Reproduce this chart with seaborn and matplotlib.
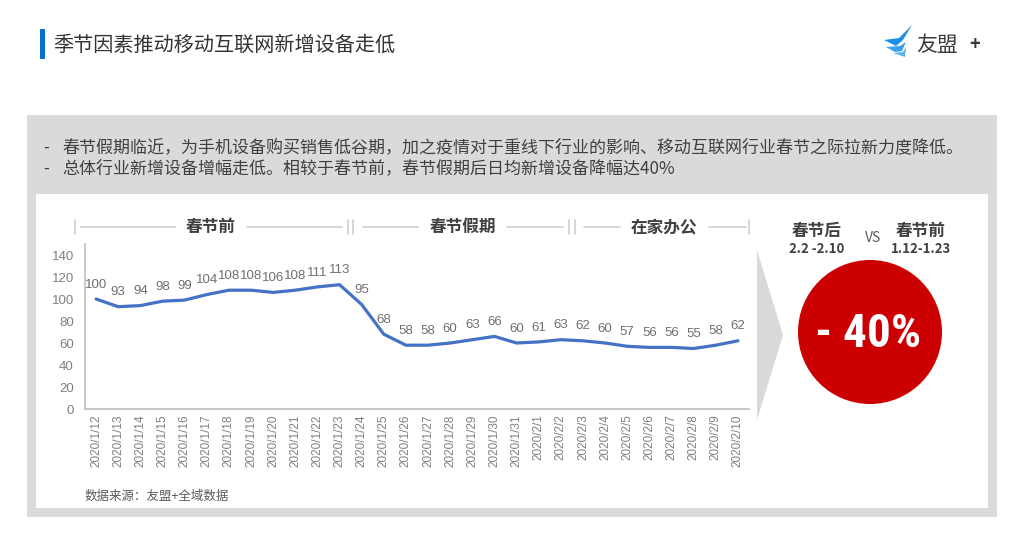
import numpy as np
import pandas as pd
import matplotlib
matplotlib.use("Agg")
import matplotlib.pyplot as plt
import matplotlib.patches as mpatches
import matplotlib.transforms as mtransforms
from matplotlib import font_manager
import seaborn as sns

# ---- data ----
dates = ["2020/1/12", "2020/1/13", "2020/1/14", "2020/1/15", "2020/1/16",
         "2020/1/17", "2020/1/18", "2020/1/19", "2020/1/20", "2020/1/21",
         "2020/1/22", "2020/1/23", "2020/1/24", "2020/1/25", "2020/1/26",
         "2020/1/27", "2020/1/28", "2020/1/29", "2020/1/30", "2020/1/31",
         "2020/2/1", "2020/2/2", "2020/2/3", "2020/2/4", "2020/2/5",
         "2020/2/6", "2020/2/7", "2020/2/8", "2020/2/9", "2020/2/10"]
new_devices = [100, 93, 94, 98, 99, 104, 108, 108, 106, 108, 111, 113, 95, 68, 58,
               58, 60, 63, 66, 60, 61, 63, 62, 60, 57, 56, 56, 55, 58, 62]

periods = ["春节前", "春节假期", "在家办公"]
period_start = ["2020/1/12", "2020/1/24", "2020/2/3"]
period_end = ["2020/1/23", "2020/2/2", "2020/2/10"]

title = "季节因素推动移动互联网新增设备走低"
notes = ["春节假期临近，为手机设备购买销售低谷期，加之疫情对于重线下行业的影响、移动互联网行业春节之际拉新力度降低。",
         "总体行业新增设备增幅走低。相较于春节前，春节假期后日均新增设备降幅达40%"]
source = "数据来源：友盟+全域数据"
compare_names = ["春节后", "春节前"]
compare_ranges = ["2.2 -2.10", "1.12-1.23"]
change_pct = -40

# ---- style ----
sns.set_style("white")
plt.rcParams["font.family"] = ["Noto Sans CJK SC", "DejaVu Sans"]

installed = {f.name for f in font_manager.fontManager.ttflist}
narrow = None
for cand in ["Roboto Condensed", "Liberation Sans Narrow", "DejaVu Sans Condensed",
             "Open Sans Condensed"]:
    if cand in installed:
        narrow = cand
        break
num_font = "Liberation Sans" if "Liberation Sans" in installed else "DejaVu Sans"

W, H = 1019, 552
fig = plt.figure(figsize=(W / 100, H / 100), dpi=100)

# background layer in pixel coordinates
bg = fig.add_axes([0, 0, 1, 1])
bg.set_xlim(0, W)
bg.set_ylim(H, 0)
bg.axis("off")

# title
bg.add_patch(mpatches.Rectangle((40, 29), 5, 30, fc="#0A6ED1", lw=0))
bg.text(53, 45, title, fontsize=14.5, color="#333333", va="center", ha="left")

# logo
blue = "#1E8FE6"
bg.add_patch(mpatches.Polygon([(884, 40), (899, 38), (912, 25), (903, 40), (896, 46)], fc=blue, lw=0))
bg.add_patch(mpatches.Polygon([(886, 47), (900, 46), (906, 42), (902, 51), (895, 52)], fc="#3AA0EE", lw=0))
bg.add_patch(mpatches.Polygon([(893, 53), (903, 52), (906, 47), (905, 57)], fc="#5BB3F2", lw=0))
bg.text(916, 45, "友盟", fontsize=15, color="#3a3a3a", va="center", ha="left")
bg.text(969, 45, "+", fontsize=13, color="#3a3a3a", va="center", ha="left", fontweight="bold")

# grey box and white panel
bg.add_patch(mpatches.Rectangle((27, 115), 970, 402, fc="#DADADA", lw=0))
bg.add_patch(mpatches.Rectangle((36, 194), 952, 314, fc="white", lw=0))

for i, line in enumerate(notes):
    y = 147 + i * 21
    bg.text(43, y, "-", fontsize=12, color="#404040", va="center", ha="left")
    bg.text(62, y, line, fontsize=12.25, color="#404040", va="center", ha="left")

bg.text(85, 496, source, fontsize=9, color="#595959", va="center", ha="left")

# chevron
bg.add_patch(mpatches.Polygon([(757, 250), (783, 335), (757, 420)], fc="#D9D9D9", lw=0))

# comparison circle
bg.add_patch(mpatches.Circle((870, 332), 72, fc="#CC0000", lw=0))
if narrow:
    bg.text(868, 334, f"- {abs(change_pct)}%", fontsize=34, color="white", fontweight="bold",
            ha="center", va="center", family=narrow)
else:
    bg.text(868, 334, f"- {abs(change_pct)}%", fontsize=28, color="white", fontweight="bold",
            ha="center", va="center", family="Roboto")
for cx, name, rng in zip([817, 921], compare_names, compare_ranges):
    bg.text(cx, 231, name, fontsize=12, fontweight="bold", color="#404040", ha="center", va="center")
    bg.text(cx, 249, rng, fontsize=9.5, fontweight="bold", color="#404040", ha="center", va="center")
bg.text(873, 238, "VS", fontsize=10, color="#595959", ha="center", va="center")

# ---- line chart ----
L, T, R, B = 85, 244, 749, 409
ax = fig.add_axes([L / W, 1 - B / H, (R - L) / W, (B - T) / H])
ax.patch.set_alpha(0)
df = pd.DataFrame({"date": dates, "value": new_devices})
sns.lineplot(data=df, x="date", y="value", ax=ax, sort=False, color="#4472C4", lw=2.3)

for d, v in zip(dates, new_devices):
    ax.annotate(str(v), (d, v), xytext=(0, 6), textcoords="offset points",
                ha="center", va="bottom", fontsize=9.5, color="#6f6f6f",
                family=num_font)

n = len(dates)
ax.set_xlim(-0.5, n - 0.5)
ax.set_ylim(0, 150)
ax.set_yticks(range(0, 141, 20))
ax.set_xlabel("")
ax.set_ylabel("")
for s in ["top", "right"]:
    ax.spines[s].set_visible(False)
for s in ["left", "bottom"]:
    ax.spines[s].set_color("#BFBFBF")
    ax.spines[s].set_linewidth(1.2)
ax.set_xticks(np.arange(-0.5, n), minor=True)
ax.tick_params(axis="x", which="major", length=0, pad=4, labelsize=8.5,
               labelcolor="#7f7f7f", rotation=90)
ax.tick_params(axis="x", which="minor", length=4, color="#BFBFBF", width=1)
ax.tick_params(axis="y", length=0, pad=8, labelsize=9.5, labelcolor="#808080")
for lab in ax.get_xticklabels() + ax.get_yticklabels():
    lab.set_family(num_font)

# period header above the chart (x in category units, y in pixels)
tr = mtransforms.blended_transform_factory(ax.transData, bg.transData)
px_per_cat = (R - L) / n
hy = 227
lc = "#CFCFCF"
for k, (name, s, e) in enumerate(zip(periods, period_start, period_end)):
    x0 = dates.index(s) - 0.5
    x1 = dates.index(e) + 0.5
    lo = x0 - 0.45 if k == 0 else x0 + 0.3
    hi = x1 - 0.05 if k == len(periods) - 1 else x1 - 0.3
    if k == 0:
        ax.plot([lo, lo], [220, 234], transform=tr, color=lc, lw=1.2, clip_on=False)
    if k == len(periods) - 1:
        ax.plot([hi + 0.05, hi + 0.05], [220, 234], transform=tr, color=lc, lw=1.2, clip_on=False)
    else:
        for off in (-0.13, 0.13):
            ax.plot([x1 + off, x1 + off], [220, 234], transform=tr, color=lc, lw=1.2, clip_on=False)
    mid = (lo + hi) / 2 + 0.05
    half = (len(name) * 16.7 / 2 + 11) / px_per_cat
    ax.plot([lo + 0.25, mid - half], [hy, hy], transform=tr, color=lc, lw=1.2, clip_on=False)
    ax.plot([mid + half, hi - 0.1], [hy, hy], transform=tr, color=lc, lw=1.2, clip_on=False)
    ax.text(mid, hy, name, transform=tr, fontsize=12, fontweight="bold", color="#404040",
            ha="center", va="center")

fig.savefig("out.png", dpi=100)
